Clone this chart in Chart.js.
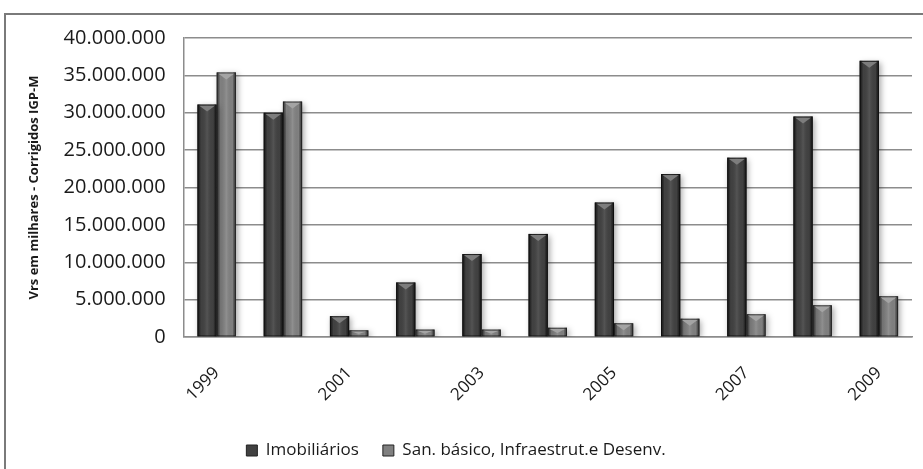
<!DOCTYPE html>
<html>
<head>
<meta charset="utf-8">
<script src="https://cdn.jsdelivr.net/npm/chart.js@4/dist/chart.umd.min.js"></script>
<style>
  html, body { margin: 0; padding: 0; background: #fff; }
  #wrap { width: 923px; height: 469px; position: relative; }
</style>
</head>
<body>
<div id="wrap"><canvas id="c" width="923" height="469"></canvas></div>
<script>
// Anos
const years = ['1999','2000','2001','2002','2003','2004','2005','2006','2007','2008','2009'];
// Valores em milhares, corrigidos pelo IGP-M
const imobiliarios = [31100000, 30000000, 2800000, 7300000, 11100000, 13800000, 18000000, 21800000, 24000000, 29500000, 36950000];
const saneamento   = [35400000, 31500000, 900000, 1000000, 1000000, 1250000, 1840000, 2460000, 3050000, 4250000, 5460000];
const seriesNames = ['Imobiliários', 'San. básico, Infraestrut.e Desenv.'];
const yTicks = { min: 0, max: 40000000, step: 5000000 };

const FONT = "'Open Sans', 'Liberation Sans', sans-serif";

function fmt(v) {
  return String(v).replace(/\B(?=(\d{3})+(?!\d))/g, '.');
}

// Moldura externa do gráfico (apenas topo e esquerda ficam visíveis)
const framePlugin = {
  id: 'frame',
  beforeDraw(chart) {
    const ctx = chart.ctx;
    ctx.save();
    ctx.strokeStyle = '#7a7a7a';
    ctx.lineWidth = 2;
    ctx.strokeRect(5, 14, 940, 480);
    ctx.restore();
  }
};

// Sombra das barras
const shadowPlugin = {
  id: 'barShadow',
  beforeDatasetDraw(chart) {
    const ctx = chart.ctx;
    ctx.save();
    ctx.shadowColor = 'rgba(0,0,0,0.35)';
    ctx.shadowBlur = 6;
    ctx.shadowOffsetX = 2;
    ctx.shadowOffsetY = 2;
  },
  afterDatasetDraw(chart) {
    chart.ctx.restore();
  }
};

// Sombreamento lateral e chanfro no topo de cada barra
const bevelPlugin = {
  id: 'bevel',
  afterDatasetsDraw(chart) {
    const ctx = chart.ctx;
    const styles = [
      { edge: '#1e1e1e', mid: 'rgba(255,255,255,0.10)', tri: '#7d7d7d' },
      { edge: '#4a4a4a', mid: 'rgba(255,255,255,0.12)', tri: '#a4a4a4' }
    ];
    chart.data.datasets.forEach((ds, di) => {
      const meta = chart.getDatasetMeta(di);
      const st = styles[di];
      meta.data.forEach(bar => {
        const p = bar.getProps(['x', 'y', 'base', 'width'], true);
        const l = p.x - p.width / 2, r = p.x + p.width / 2;
        const top = p.y, bot = p.base, h = bot - top;
        if (h <= 0) return;
        ctx.save();
        const g = ctx.createLinearGradient(l, 0, r, 0);
        g.addColorStop(0, st.edge);
        g.addColorStop(0.18, 'rgba(0,0,0,0)');
        g.addColorStop(0.5, st.mid);
        g.addColorStop(0.82, 'rgba(0,0,0,0)');
        g.addColorStop(1, st.edge);
        ctx.fillStyle = g;
        ctx.fillRect(l, top, p.width, h);
        const th = Math.min(7, h * 0.6);
        ctx.beginPath();
        ctx.moveTo(l + 1.5, top + 1);
        ctx.lineTo(r - 1.5, top + 1);
        ctx.lineTo(p.x, top + th);
        ctx.closePath();
        ctx.fillStyle = st.tri;
        ctx.fill();
        ctx.strokeStyle = 'rgba(0,0,0,0.55)';
        ctx.lineWidth = 1;
        ctx.strokeRect(l + 0.5, top + 0.5, p.width - 1, h - 1);
        ctx.restore();
      });
    });
  }
};

new Chart(document.getElementById('c'), {
  type: 'bar',
  data: {
    labels: years,
    datasets: [
      { label: seriesNames[0], data: imobiliarios, backgroundColor: '#414141', borderWidth: 0 },
      { label: seriesNames[1], data: saneamento, backgroundColor: '#808080', borderWidth: 0 }
    ]
  },
  options: {
    responsive: false,
    animation: false,
    devicePixelRatio: 1,
    layout: { padding: { left: 0, right: 11, top: 38, bottom: 0 } },
    datasets: { bar: { categoryPercentage: 0.58, barPercentage: 1.0 } },
    plugins: {
      legend: {
        position: 'bottom',
        labels: {
          font: { family: FONT, size: 17 },
          color: '#1a1a1a',
          boxWidth: 11,
          boxHeight: 11,
          padding: 24,
          generateLabels(chart) {
            const base = Chart.defaults.plugins.legend.labels.generateLabels(chart);
            base.forEach(it => { it.lineWidth = 1; it.strokeStyle = '#222'; });
            return base;
          }
        }
      },
      tooltip: { enabled: false }
    },
    scales: {
      x: {
        grid: { display: false, drawTicks: false },
        border: { display: true, color: '#8c8c8c', width: 1.5 },
        afterFit(scale) { scale.height -= 13; },
        ticks: {
          font: { family: FONT, size: 17 },
          color: '#1a1a1a',
          minRotation: 45,
          maxRotation: 45,
          autoSkip: false,
          padding: 26,
          callback(v, i) { return i % 2 === 0 ? years[i] : ''; }
        }
      },
      y: {
        min: yTicks.min,
        max: yTicks.max,
        grid: { color: '#8c8c8c', lineWidth: 1.5, drawTicks: false },
        border: { display: true, color: '#8c8c8c', width: 1.5 },
        ticks: {
          stepSize: yTicks.step,
          font: { family: FONT, size: 20 },
          color: '#1a1a1a',
          padding: 18,
          callback(v) { return fmt(v); }
        },
        title: {
          display: true,
          text: 'Vrs em milhares - Corrigidos IGP-M',
          font: { family: FONT, size: 13, weight: 'bold' },
          color: '#1a1a1a',
          padding: { top: 26, bottom: 4 }
        }
      }
    }
  },
  plugins: [framePlugin, shadowPlugin, bevelPlugin]
});
</script>
</body>
</html>
